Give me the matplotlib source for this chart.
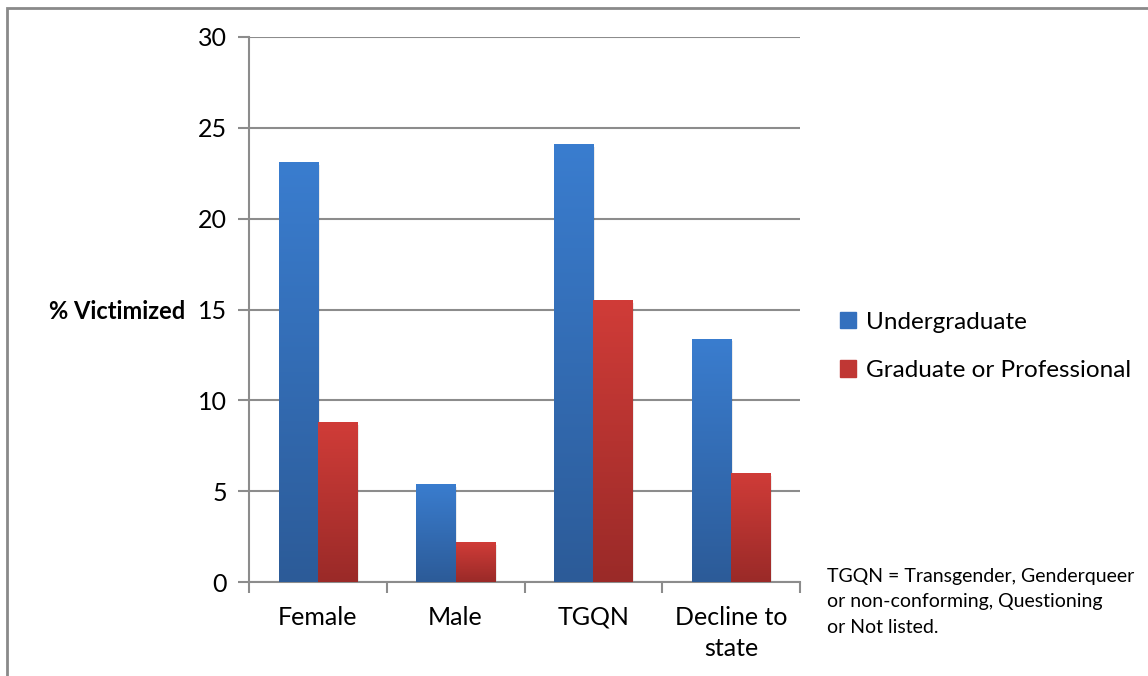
import numpy as np
import matplotlib.pyplot as plt
from matplotlib.colors import LinearSegmentedColormap
from matplotlib.patches import Rectangle

categories = ['Female', 'Male', 'TGQN', 'Decline to\nstate']
undergrad = [23.1, 5.4, 24.1, 13.4]
graduate = [8.8, 2.2, 15.5, 6.0]
series_names = ['Undergraduate', 'Graduate or Professional']
yticks = [0, 5, 10, 15, 20, 25, 30]
note = 'TGQN = Transgender, Genderqueer\nor non-conforming, Questioning\nor Not listed.'

plt.rcParams['font.family'] = ['Lato', 'DejaVu Sans']

blue_cmap = LinearSegmentedColormap.from_list('b', ['#2c5b98', '#3a7dcf'])
red_cmap = LinearSegmentedColormap.from_list('r', ['#9a2a28', '#d03c38'])

fig = plt.figure(figsize=(11.48, 6.76), dpi=100)
ax = fig.add_axes([249 / 1148, 0.139, 551 / 1148, 0.8063])

# outer chart border
fig.patches.append(Rectangle((0.006, -0.1), 1.2, 1.088, transform=fig.transFigure,
                             fill=False, edgecolor='#8a8a8a', linewidth=2))

x = np.arange(len(categories))
w = 1 / 3.5
grad = np.linspace(0, 1, 256).reshape(-1, 1)


def gradient_bars(xs, vals, cmap, base):
    bars = ax.bar(xs, vals, w, color=base, zorder=3)
    for b in bars:
        x0, y0 = b.get_x(), b.get_y()
        x1, y1 = x0 + b.get_width(), y0 + b.get_height()
        # soft shadow
        ax.add_patch(Rectangle((x0 + 0.012, y0), b.get_width(), b.get_height() - 0.15,
                               color='#000000', alpha=0.08, zorder=2.5, linewidth=0))
        im = ax.imshow(grad, cmap=cmap, aspect='auto', extent=(x0, x1, y0, y1),
                       origin='lower', zorder=3.5)
        im.set_clip_path(b)
    return bars


gradient_bars(x - w / 2, undergrad, blue_cmap, '#3470be')
gradient_bars(x + w / 2, graduate, red_cmap, '#c03734')

ax.set_xlim(-0.5, len(categories) - 0.5)
ax.set_ylim(0, 30)
ax.set_yticks(yticks)
ax.set_xticks(x)
ax.set_xticklabels(categories, fontsize=18, linespacing=1.45)
ax.set_xticks(np.arange(len(categories) + 1) - 0.5, minor=True)
ax.tick_params(axis='x', which='major', length=0, pad=17)
ax.tick_params(axis='x', which='minor', length=8, width=1.5, color='#8c8c8c')
ax.tick_params(axis='y', length=8, width=1.5, color='#8c8c8c', labelsize=18, pad=8)
ax.yaxis.grid(True, color='#8c8c8c', linewidth=1.5, zorder=0)
ax.set_axisbelow(True)
for s in ['top', 'right']:
    ax.spines[s].set_visible(False)
for s in ['left', 'bottom']:
    ax.spines[s].set_color('#8c8c8c')
    ax.spines[s].set_linewidth(1.5)

fig.text(185 / 1148, 1 - 311 / 676, '% Victimized', fontsize=17, fontweight='bold',
         ha='right', va='center')

handles = [Rectangle((0, 0), 1, 1, color='#3470be'), Rectangle((0, 0), 1, 1, color='#c03734')]
fig.legend(handles, series_names, loc='upper left', bbox_to_anchor=(0.713, 0.571),
           frameon=False, fontsize=17.5, handlelength=0.65, handleheight=0.65,
           handletextpad=0.4, labelspacing=1.12)

fig.text(827 / 1148, 1 - 568 / 676, note, fontsize=14, va='top', ha='left', linespacing=1.6)

fig.savefig('out.png', dpi=100)
